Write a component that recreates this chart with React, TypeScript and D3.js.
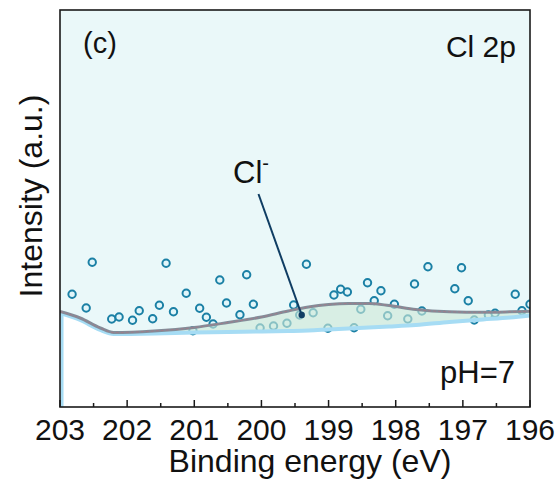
import React from "react";
import * as d3 from "d3";

// ---- data (binding energy in eV, intensity in a.u.) ----
const pointEnergy = [202.82, 202.61, 202.52, 202.23, 202.12, 201.92, 201.82, 201.62, 201.52, 201.42, 201.31, 201.12, 201.02, 200.92, 200.82, 200.72, 200.62, 200.52, 200.32, 200.22, 200.12, 200.02, 199.82, 199.62, 199.52, 199.43, 199.33, 199.23, 199.01, 198.92, 198.82, 198.72, 198.62, 198.52, 198.42, 198.32, 198.22, 198.12, 198.02, 197.82, 197.72, 197.61, 197.52, 197.12, 197.02, 196.92, 196.83, 196.62, 196.52, 196.22, 196.12, 196.0];
const pointIntensity = [112.7, 99, 144.7, 88, 90, 86.7, 96.3, 88.3, 101.7, 143.7, 95.3, 113.7, 76.3, 98.7, 89.7, 83, 127, 104, 92.3, 132.3, 102.7, 79, 81, 83.7, 102, 92, 142.7, 94.3, 78.7, 112, 117.7, 115, 79.3, 97.7, 124.3, 106.3, 116.3, 91.3, 102.7, 88, 123, 96, 140.3, 118.3, 139.3, 106.3, 87, 92, 93.7, 112.7, 96.3, 102.7];

const fitEnergy = [203.0, 202.7, 202.4, 202.2, 201.6, 201.0, 200.5, 200.0, 199.6, 199.3, 199.0, 198.7, 198.4, 198.1, 197.7, 197.2, 196.7, 196.3, 196.0];
const backgroundIntensity = [94, 87, 77, 73, 73.5, 74.5, 75, 75.5, 76, 76.5, 77.5, 78.5, 79.5, 80.5, 82, 85, 87.5, 89.5, 91.5];
const envelopeIntensity = [95.5, 89, 79, 74.5, 76, 79.5, 84.5, 90, 96, 100, 102.5, 103.5, 103.5, 101.5, 97.5, 95.2, 94.7, 95.2, 95.8];

const xTicks = [203, 202, 201, 200, 199, 198, 197, 196];
const xMinorTicks = [202.5, 201.5, 200.5, 199.5, 198.5, 197.5, 196.5];

const annotation = { label: "Cl", sup: "-", fromE: 200.044, fromI: 213, toE: 199.4, toI: 92 };

const W = 559;
const H = 481;
const left = 60, right = 530, top = 10, bottom = 407;
const FONT = "Arial, 'Liberation Sans', Helvetica, sans-serif";

export default function App() {
  const x = d3.scaleLinear().domain([203, 196]).range([left, right]);
  const y = d3.scaleLinear().domain([0, 397]).range([bottom, top]);

  const idx = d3.range(fitEnergy.length);
  const curve = d3.curveMonotoneX;

  const bgLine = d3.line<number>().x(i => x(fitEnergy[i])).y(i => y(backgroundIntensity[i])).curve(curve)(idx) || "";
  const envLine = d3.line<number>().x(i => x(fitEnergy[i])).y(i => y(envelopeIntensity[i])).curve(curve)(idx) || "";
  const whiteArea = d3.area<number>().x(i => x(fitEnergy[i])).y0(bottom).y1(i => y(backgroundIntensity[i])).curve(curve)(idx) || "";
  const peakArea = d3.area<number>().x(i => x(fitEnergy[i])).y0(i => y(backgroundIntensity[i])).y1(i => y(envelopeIntensity[i])).curve(curve)(idx) || "";

  const bgStart = backgroundIntensity[0];

  return (
    <svg width={W} height={H} style={{ position: "absolute", left: 0, top: 0, background: "#fff" }} fontFamily={FONT}>
      <defs>
        <clipPath id="plotclip">
          <rect x={left} y={top} width={right - left} height={bottom - top} />
        </clipPath>
      </defs>
      <g clipPath="url(#plotclip)">
        <rect x={left} y={top} width={right - left} height={bottom - top} fill="#eaf8f9" />
        <path d={whiteArea} fill="#ffffff" />
        {pointEnergy.map((e, i) => (
          <circle key={i} cx={x(e)} cy={y(pointIntensity[i])} r={3.7} fill="#e2f6fa" stroke="#1b80a5" strokeWidth={2} />
        ))}
        <path d={peakArea} fill="#cde9d7" fillOpacity={0.62} />
        <line x1={x(202.97)} x2={x(202.97)} y1={y(bgStart)} y2={bottom} stroke="#a6dcf4" strokeWidth={3} />
        <path d={bgLine} fill="none" stroke="#a6dcf4" strokeWidth={4} />
        <path d={envLine} fill="none" stroke="#838d99" strokeWidth={3} />
        <path d={envLine} fill="none" stroke="#c06a78" strokeWidth={0.6} strokeDasharray="3 2" opacity={0.8} />
        <line x1={x(annotation.fromE)} y1={y(annotation.fromI)} x2={x(annotation.toE)} y2={y(annotation.toI)} stroke="#0f3d63" strokeWidth={2} />
        <circle cx={x(annotation.toE)} cy={y(annotation.toI)} r={3.2} fill="#0f3d63" />
      </g>
      <rect x={left} y={top} width={right - left} height={bottom - top} fill="none" stroke="#1a1a1a" strokeWidth={1.6} />
      {xTicks.map(t => (
        <g key={t}>
          <line x1={x(t)} x2={x(t)} y1={bottom} y2={bottom - 7} stroke="#1a1a1a" strokeWidth={1.5} />
          <text x={x(t)} y={440} fontSize={30} textAnchor="middle" fill="#111">{t}</text>
        </g>
      ))}
      {xMinorTicks.map(t => (
        <line key={t} x1={x(t)} x2={x(t)} y1={bottom} y2={bottom - 4} stroke="#1a1a1a" strokeWidth={1.5} />
      ))}
      <text x={310} y={472} fontSize={32} textAnchor="middle" fill="#111">Binding energy (eV)</text>
      <text transform="translate(42,196) rotate(-90)" fontSize={32} textAnchor="middle" fill="#111">Intensity (a.u.)</text>
      <text x={83} y={53} fontSize={29} fill="#111">(c)</text>
      <text x={516} y={57} fontSize={30} textAnchor="end" fill="#111">Cl 2p</text>
      <text x={515} y={383} fontSize={31} textAnchor="end" fill="#111">pH=7</text>
      <text x={233} y={183} fontSize={31} fill="#111">
        {annotation.label}
        <tspan fontSize={20} dy={-13}>{annotation.sup}</tspan>
      </text>
    </svg>
  );
}
